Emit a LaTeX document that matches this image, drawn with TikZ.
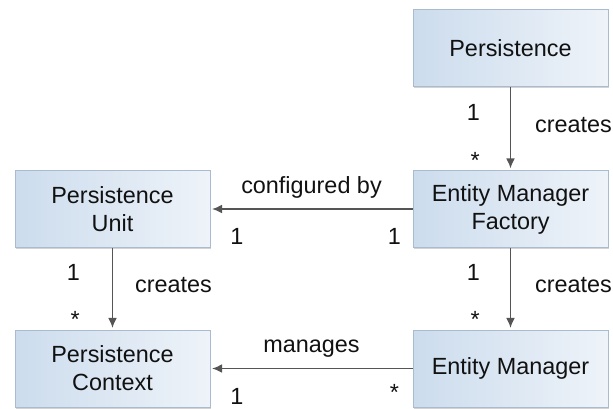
\documentclass[tikz,border=0pt]{standalone}
\usepackage{fontspec}
\setmainfont{Liberation Sans}
\usetikzlibrary{positioning,shadows,arrows.meta}
\definecolor{boxleft}{HTML}{CCDCED}
\definecolor{boxright}{HTML}{EEF3F9}
\definecolor{boxline}{HTML}{A9BBCE}
\definecolor{linkgray}{HTML}{555555}
\definecolor{inkgray}{HTML}{111111}
\tikzset{
	entity/.style={draw=boxline,line width=0.5pt,left color=boxleft,right color=boxright,
		minimum width=97.5pt,minimum height=38.5pt,align=center,text=inkgray,
		drop shadow={shadow xshift=0.6pt,shadow yshift=-0.8pt,opacity=0.35,fill=gray}},
	link/.style={->,draw=linkgray,line width=0.7pt,shorten >=0.8pt},
	mult/.style={inner sep=0pt,text=inkgray},
}
\begin{document}
	\begin{tikzpicture}[>={Latex[length=5pt,width=4.4pt]},x=0.5pt,y=-0.5pt,font=\fontsize{11.7}{14}\selectfont]
		
		\useasboundingbox (0,0) rectangle (613,408);
		
		\node [entity] (pers) at (510.5,48) {Persistence};
		\node [entity] (emf) at (510.5,209) {Entity Manager\\Factory};
		\node [entity] (em) at (510.5,368.5) {Entity Manager};
		\node [entity] (unit) at (112.5,209) {Persistence\\Unit};
		\node [entity] (ctx) at (112.5,368.5) {Persistence\\Context};
		
		\draw [link] (pers) -- (emf)
			node [mult,pos=0.31,left=15pt] (pers1) {1}
			node [mult,pos=0.46,right=12pt] (perscr) {creates}
			node [mult,pos=0.78,anchor=north east,xshift=-15pt] (emfstar) {*};
		\draw [link] (unit) -- (ctx)
			node [mult,pos=0.3,left=16pt] (unit1) {1}
			node [mult,pos=0.46,right=11pt] (unitcr) {creates}
			node [mult,pos=0.77,anchor=north east,xshift=-16pt] (ctxstar) {*};
		\draw [link] (emf) -- (em)
			node [mult,pos=0.3,left=15pt] (emf1) {1}
			node [mult,pos=0.46,right=12pt] (emfcr) {creates}
			node [mult,pos=0.77,anchor=north east,xshift=-15pt] (emstar) {*};
		
		\draw [link] (emf) -- (unit)
			node [mult,midway,above=5pt] (conf) {configured by}
			node [mult,pos=0.09,below=9.5pt] (emfone) {1}
			node [mult,pos=0.87,below=9.5pt] (unitone) {1};
		\draw [link] (em) -- (ctx)
			node [mult,midway,above=5pt] (mng) {manages}
			node [mult,pos=0.09,below=7.5pt] (emmany) {*}
			node [mult,pos=0.87,below=9.5pt] (ctxone) {1};
		
	\end{tikzpicture}
\end{document}
